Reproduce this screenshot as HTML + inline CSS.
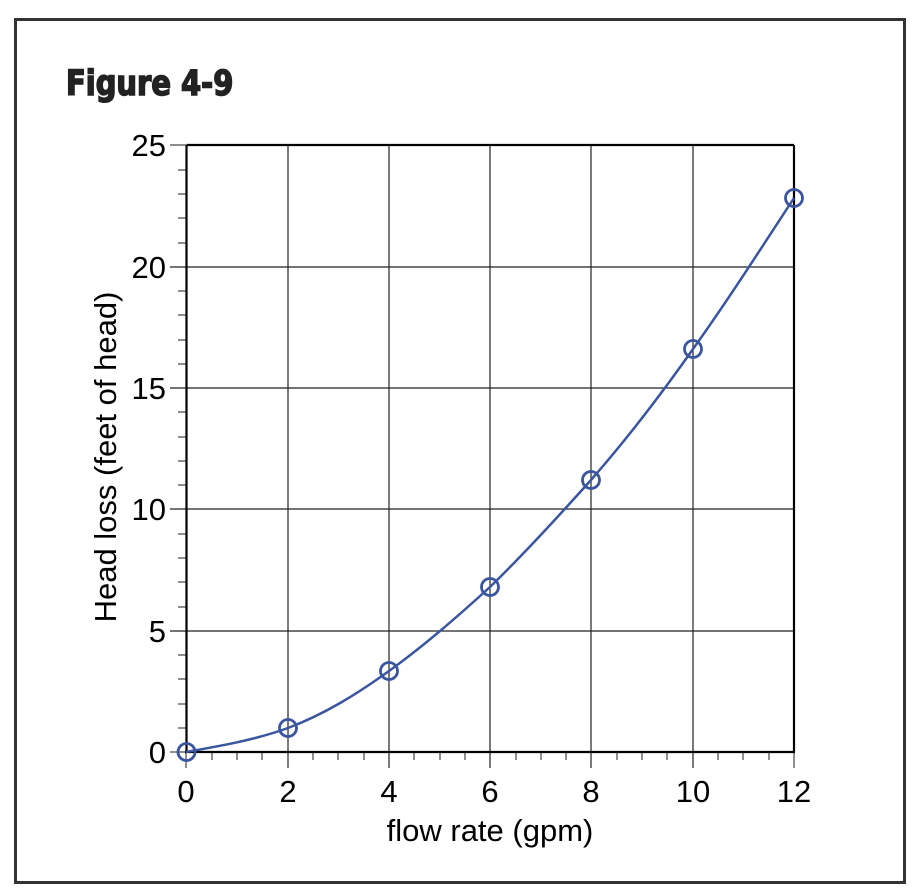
<!DOCTYPE html>
<html><head><meta charset="utf-8"><style>
html,body{margin:0;padding:0;background:#fff;}
svg{display:block;}
text{font-family:"Liberation Sans",sans-serif;}
</style></head><body>
<svg width="918" height="892" viewBox="0 0 918 892" xmlns="http://www.w3.org/2000/svg">
<rect x="15.5" y="19.5" width="889" height="863" fill="none" stroke="#333" stroke-width="3"/>
<text x="66" y="95" font-size="35" fill="#222" stroke="#222" stroke-width="1.5" style="font-family:'DejaVu Sans Condensed','Liberation Sans Narrow','Liberation Sans',sans-serif;font-weight:900" transform="translate(66,0) scale(0.92,1) translate(-66,0)">Figure 4-9</text>
<g stroke="#222" stroke-width="1.2">
<line x1="288" y1="145" x2="288" y2="768"/><line x1="389" y1="145" x2="389" y2="768"/>
<line x1="490" y1="145" x2="490" y2="768"/><line x1="591" y1="145" x2="591" y2="768"/>
<line x1="693" y1="145" x2="693" y2="768"/>
<line x1="170" y1="267" x2="794" y2="267"/><line x1="170" y1="388" x2="794" y2="388"/>
<line x1="170" y1="509" x2="794" y2="509"/><line x1="170" y1="631" x2="794" y2="631"/>
</g>
<g stroke="#444" stroke-width="1.2">
<line x1="212" y1="752" x2="212" y2="760"/><line x1="237" y1="752" x2="237" y2="760"/><line x1="262" y1="752" x2="262" y2="760"/>
<line x1="313" y1="752" x2="313" y2="760"/><line x1="338" y1="752" x2="338" y2="760"/><line x1="364" y1="752" x2="364" y2="760"/>
<line x1="414" y1="752" x2="414" y2="760"/><line x1="440" y1="752" x2="440" y2="760"/><line x1="465" y1="752" x2="465" y2="760"/>
<line x1="516" y1="752" x2="516" y2="760"/><line x1="541" y1="752" x2="541" y2="760"/><line x1="566" y1="752" x2="566" y2="760"/>
<line x1="617" y1="752" x2="617" y2="760"/><line x1="642" y1="752" x2="642" y2="760"/><line x1="667" y1="752" x2="667" y2="760"/>
<line x1="718" y1="752" x2="718" y2="760"/><line x1="743" y1="752" x2="743" y2="760"/><line x1="769" y1="752" x2="769" y2="760"/>
<line x1="186" y1="752" x2="186" y2="768"/><line x1="794" y1="752" x2="794" y2="768"/>
<line x1="178" y1="728" x2="186" y2="728"/><line x1="178" y1="704" x2="186" y2="704"/><line x1="178" y1="679" x2="186" y2="679"/><line x1="178" y1="655" x2="186" y2="655"/>
<line x1="178" y1="607" x2="186" y2="607"/><line x1="178" y1="582" x2="186" y2="582"/><line x1="178" y1="558" x2="186" y2="558"/><line x1="178" y1="534" x2="186" y2="534"/>
<line x1="178" y1="485" x2="186" y2="485"/><line x1="178" y1="461" x2="186" y2="461"/><line x1="178" y1="437" x2="186" y2="437"/><line x1="178" y1="412" x2="186" y2="412"/>
<line x1="178" y1="364" x2="186" y2="364"/><line x1="178" y1="340" x2="186" y2="340"/><line x1="178" y1="315" x2="186" y2="315"/><line x1="178" y1="291" x2="186" y2="291"/>
<line x1="178" y1="243" x2="186" y2="243"/><line x1="178" y1="218" x2="186" y2="218"/><line x1="178" y1="194" x2="186" y2="194"/><line x1="178" y1="170" x2="186" y2="170"/>
<line x1="170" y1="145" x2="186" y2="145"/><line x1="170" y1="752" x2="186" y2="752"/>
</g>
<g stroke="#000" stroke-width="2.2" fill="none">
<line x1="186.5" y1="145" x2="794" y2="145"/>
<line x1="794" y1="145" x2="794" y2="752"/>
<line x1="186.5" y1="145" x2="186.5" y2="753"/>
<line x1="185" y1="752" x2="795" y2="752"/>
</g>
<path d="M186,752 C220,746 255,740 288,728 C325,714 357,694 389,671 C425,645 457,617 490,587 C525,553 557,518 591,480 C626,440 660,396 693,349 C728,300 760,250 794,198" fill="none" stroke="#3a55a0" stroke-width="2.5"/>
<g fill="none" stroke="#3a55a0" stroke-width="2.8">
<circle cx="186.5" cy="752" r="8.5"/><circle cx="288" cy="728" r="8.5"/><circle cx="389" cy="671" r="8.5"/>
<circle cx="490" cy="587" r="8.5"/><circle cx="591" cy="480" r="8.5"/><circle cx="693" cy="349" r="8.5"/><circle cx="794" cy="198" r="8.5"/>
</g>
<g font-size="31" fill="#000" text-anchor="middle">
<text x="186" y="802">0</text><text x="288" y="802">2</text><text x="389" y="802">4</text>
<text x="490" y="802">6</text><text x="591" y="802">8</text><text x="693" y="802">10</text><text x="794" y="802">12</text>
</g>
<g font-size="31" fill="#000" text-anchor="end">
<text x="166" y="763">0</text><text x="166" y="642">5</text><text x="166" y="520">10</text>
<text x="166" y="399">15</text><text x="166" y="278">20</text><text x="166" y="156">25</text>
</g>
<text x="490" y="841" font-size="31" text-anchor="middle">flow rate (gpm)</text>
<text transform="translate(116,457) rotate(-90)" font-size="31" text-anchor="middle">Head loss (feet of head)</text>
</svg>
</body></html>
